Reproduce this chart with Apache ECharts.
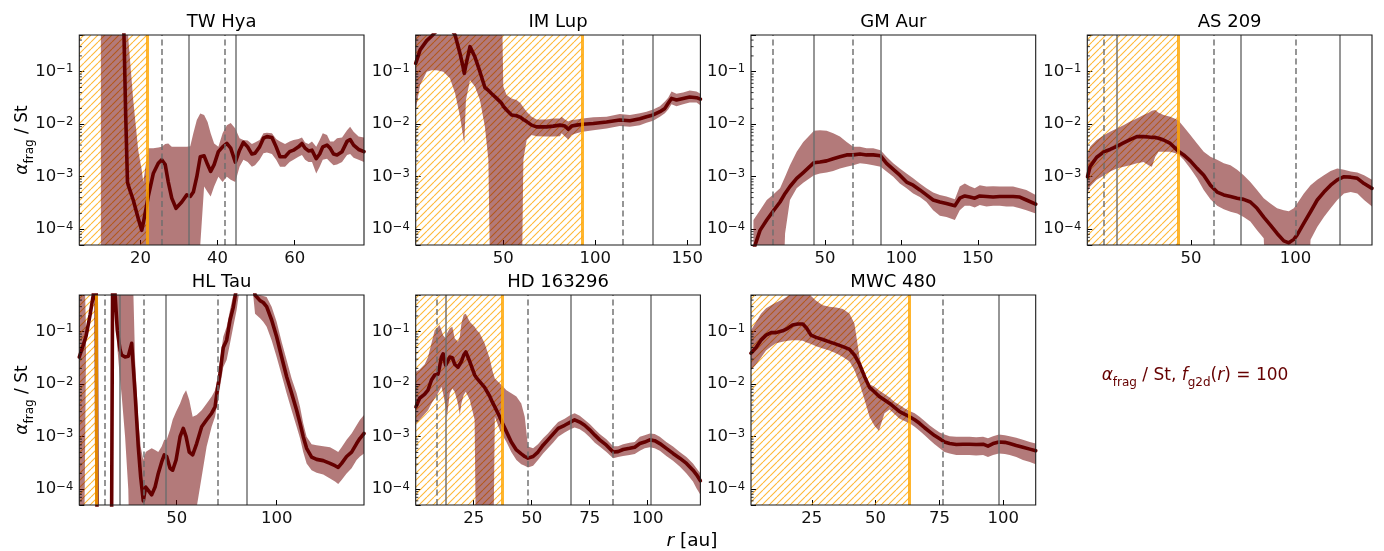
<!DOCTYPE html>
<html><head><meta charset="utf-8">
<script src="https://cdn.jsdelivr.net/npm/echarts@6/dist/echarts.min.js"></script>
<style>html,body{margin:0;padding:0;background:#fff}#c{width:1384px;height:551px}</style>
</head><body><div id="c"></div>
<script>
// ---------------- DATA ----------------
// y: alpha_frag / St ; x: r [au]. Values 1e-7 / 10 mean "beyond the plotted range".
const yTickValues = [1e-4, 1e-3, 1e-2, 1e-1];
const minorTickValues = [6e-5,7e-5,8e-5,9e-5, 2e-4,3e-4,4e-4,5e-4,6e-4,7e-4,8e-4,9e-4,
  2e-3,3e-3,4e-3,5e-3,6e-3,7e-3,8e-3,9e-3, 2e-2,3e-2,4e-2,5e-2,6e-2,7e-2,8e-2,9e-2, 2e-1,3e-1,4e-1];

// TW Hya
const twR = [9.7,14.9,15.4,15.7,16.1,16.6,16.8,18.1,19.4,20.3,20.7,22.0,23.3,24.6,25.5,26.4,27.2,28.1,29.2,30.7,32.0,32.9,33.7,34.6,35.5,36.5,37.4,38.2,39.1,40.2,41.3,42.4,43.4,44.6,45.7,46.7,47.8,48.9,49.7,50.9,51.9,52.8,54.1,55.2,56.2,57.5,58.7,59.7,61.0,61.9,62.7,63.6,64.5,65.6,66.5,67.3,68.4,69.2,70.1,71.0,72.3,73.6,74.4,75.3,76.6,78.0];
const twMid = [3,3,3,0.5,0.02,8e-4,6.9e-4,3.6e-4,1.6e-4,9.5e-5,1.3e-4,4.2e-4,1.15e-3,1.8e-3,2.1e-3,1.7e-3,7.9e-4,3.9e-4,2.5e-4,3.3e-4,4.5e-4,4.2e-4,5.1e-4,1.0e-3,2.4e-3,2.5e-3,1.7e-3,1.26e-3,1.7e-3,3.0e-3,3.7e-3,4.3e-3,3.5e-3,1.9e-3,3.2e-3,4.5e-3,3.7e-3,2.7e-3,2.8e-3,3.7e-3,5.4e-3,5.8e-3,5.6e-3,3.7e-3,2.4e-3,2.4e-3,3.0e-3,3.2e-3,3.7e-3,4.3e-3,3.5e-3,3.1e-3,3.2e-3,2.2e-3,2.7e-3,3.7e-3,4.0e-3,3.5e-3,2.7e-3,2.6e-3,3.0e-3,4.7e-3,5.1e-3,4.0e-3,3.3e-3,3.0e-3];
const twHi = [10,10,10,10,10,1,0.45,0.029,3.2e-3,1.35e-3,7.9e-4,3.5e-3,3.5e-3,3.6e-3,3.7e-3,4.2e-3,4.3e-3,3.7e-3,3.7e-3,3.7e-3,3.7e-3,3.8e-3,6.7e-3,0.012,0.016,0.015,0.011,6.7e-3,4.3e-3,3.7e-3,6.7e-3,9.5e-3,0.0105,8.3e-3,5.4e-3,5.0e-3,4.9e-3,4.2e-3,4.5e-3,5.0e-3,6.7e-3,6.9e-3,6.7e-3,5.2e-3,4.7e-3,4.2e-3,4.7e-3,5.0e-3,5.2e-3,5.6e-3,4.5e-3,4.2e-3,4.7e-3,3.7e-3,5.0e-3,6.7e-3,6.2e-3,4.7e-3,4.7e-3,5.4e-3,5.6e-3,7.7e-3,8.9e-3,7.2e-3,5.8e-3,5.6e-3];
const twLo = [1e-7,1e-7,1e-7,1e-7,1e-7,1e-7,1e-7,1e-7,1e-7,1e-7,1e-7,1e-7,1e-7,1e-7,1e-7,1e-7,1e-7,1e-7,1e-7,1e-7,1e-7,1e-7,1e-7,1e-7,5e-5,6.5e-4,5.1e-4,4.2e-4,6.5e-4,1.0e-3,7.9e-4,1.0e-3,8.7e-4,7.9e-4,1.55e-3,2.1e-3,1.9e-3,1.55e-3,1.65e-3,2.1e-3,2.8e-3,2.9e-3,2.7e-3,2.1e-3,1.55e-3,1.55e-3,1.9e-3,2.1e-3,2.4e-3,2.6e-3,2.1e-3,1.9e-3,1.9e-3,1.15e-3,1.55e-3,2.1e-3,2.2e-3,1.9e-3,1.65e-3,1.7e-3,1.9e-3,2.6e-3,2.7e-3,2.3e-3,2.1e-3,1.9e-3];
const twTicks = [20, 40, 60];
const twGaps = [25.5, 41.8];
const twRings = [32.5, 44.8];

// IM Lup
const imR = [2.4,4.8,8.4,11.1,13.8,17.4,21.0,23.8,26.5,27.9,28.8,29.7,31.9,34.6,37.3,40.0,41.9,43.7,46.4,49.1,50.0,51.8,54.5,57.2,59.4,60.9,62.7,65.4,68.1,73.5,77.1,80.8,81.7,83.5,85.3,87.1,89.8,93.1,98.9,106.1,113.3,118.8,124.2,127.8,131.4,135.1,137.8,139.6,141.4,144.1,147.7,151.3,155.0,157.1];
const imMid = [0.144,0.26,0.39,0.48,0.6,0.8,0.7,0.5,0.22,0.134,0.093,0.134,0.30,0.19,0.10,0.050,0.044,0.038,0.031,0.025,0.022,0.0186,0.015,0.0145,0.0135,0.0123,0.0112,0.0096,0.0089,0.0089,0.0092,0.0096,0.0103,0.0092,0.0080,0.0092,0.0096,0.0100,0.0103,0.011,0.012,0.0116,0.0127,0.0139,0.015,0.0173,0.020,0.025,0.031,0.029,0.031,0.033,0.032,0.030];
const imHi = [5,5,5,5,5,5,5,5,5,5,5,5,5,5,5,5,5,5,5,5,0.052,0.036,0.031,0.029,0.025,0.021,0.0173,0.0139,0.0123,0.0123,0.0129,0.0129,0.0139,0.0123,0.0112,0.012,0.0123,0.0129,0.0135,0.0139,0.0156,0.015,0.0161,0.0173,0.019,0.022,0.027,0.032,0.042,0.038,0.040,0.044,0.042,0.038];
const imLo = [0.0186,0.056,0.10,0.107,0.107,0.10,0.075,0.039,0.0139,0.0067,0.0043,0.029,0.069,0.052,0.029,0.0089,0.0021,1e-7,1e-7,1e-7,1e-7,1e-7,1e-7,1e-7,1e-7,0.0021,0.0050,0.0062,0.0059,0.0058,0.0058,0.0059,0.0067,0.0058,0.0051,0.0062,0.0067,0.0072,0.0077,0.0083,0.0092,0.0089,0.0096,0.0107,0.0116,0.0139,0.0161,0.019,0.024,0.022,0.024,0.026,0.026,0.023];
const imTicks = [50, 100, 150];
const imGaps = [114.8];
const imRings = [131.4];

// GM Aur
const gmR = [3.2,7.5,11.9,15.8,20.6,23.9,27.1,31.5,35.8,42.8,46.7,51.1,55.4,59.8,64.2,68.5,72.9,77.2,81.6,86.4,90.3,94.7,99.0,103.4,107.7,112.1,116.4,120.8,125.2,129.5,135.0,138.2,141.5,144.8,148.0,151.3,155.7,160.0,164.4,168.7,173.1,177.5,181.8,187.9];
const gmMid = [4e-5,9.5e-5,1.5e-4,2.15e-4,3.3e-4,4.8e-4,6.5e-4,9.3e-4,1.2e-3,1.85e-3,1.9e-3,2.0e-3,2.2e-3,2.4e-3,2.6e-3,2.6e-3,2.7e-3,2.6e-3,2.6e-3,2.5e-3,1.8e-3,1.38e-3,1.07e-3,7.9e-4,6.9e-4,5.6e-4,4.5e-4,3.6e-4,3.3e-4,3.1e-4,2.8e-4,3.9e-4,4.3e-4,4.1e-4,3.9e-4,4.3e-4,4.2e-4,4.1e-4,4.2e-4,4.2e-4,4.2e-4,4.1e-4,3.6e-4,3.0e-4];
const gmHi = [1.5e-4,2.3e-4,3.6e-4,4.5e-4,6.0e-4,1.0e-3,1.65e-3,3.0e-3,4.6e-3,7.5e-3,7.7e-3,7.5e-3,6.7e-3,5.8e-3,4.6e-3,3.7e-3,3.7e-3,3.5e-3,3.5e-3,3.2e-3,2.4e-3,1.8e-3,1.44e-3,1.15e-3,9.3e-4,7.4e-4,6.0e-4,5.0e-4,4.5e-4,4.2e-4,3.7e-4,6.5e-4,7.4e-4,6.6e-4,6.0e-4,6.9e-4,6.5e-4,6.6e-4,6.5e-4,6.5e-4,6.5e-4,6.0e-4,5.6e-4,4.5e-4];
const gmLo = [1e-7,1e-7,1e-7,1e-7,1e-7,8.3e-5,3.6e-4,6.0e-4,7.7e-4,1.07e-3,1.15e-3,1.2e-3,1.29e-3,1.44e-3,1.55e-3,1.65e-3,1.8e-3,1.75e-3,1.65e-3,1.55e-3,1.25e-3,1.0e-3,7.4e-4,6.0e-4,4.8e-4,4.1e-4,3.3e-4,2.3e-4,1.8e-4,1.7e-4,1.5e-4,2.3e-4,2.8e-4,2.8e-4,2.6e-4,2.9e-4,2.7e-4,2.8e-4,2.8e-4,2.7e-4,2.7e-4,2.5e-4,2.3e-4,2.0e-4];
const gmTicks = [50, 100, 150];
const gmGaps = [15.8, 68.5];
const gmRings = [42.8, 86.4];

// AS 209
const asR = [0.5,1.7,4.9,8.5,11.3,14.5,17.7,20.9,24.1,27.3,29.7,31.3,32.9,34.5,36.9,40.1,43.8,46.5,49.7,52.9,56.1,59.3,62.5,65.7,68.9,72.1,75.2,78.4,81.6,84.8,88.0,91.2,94.4,96.8,99.2,100.8,104.0,107.2,110.4,113.6,116.8,120.0,123.2,126.4,129.6,132.8,136.6];
const asMid = [1.0e-3,1.55e-3,2.35e-3,3.0e-3,3.3e-3,3.8e-3,4.4e-3,5.1e-3,5.8e-3,5.8e-3,5.7e-3,5.6e-3,5.6e-3,5.4e-3,5.0e-3,4.3e-3,3.1e-3,2.6e-3,2.0e-3,1.44e-3,1.07e-3,6.9e-4,5.1e-4,4.5e-4,4.2e-4,3.9e-4,3.7e-4,3.3e-4,2.5e-4,1.7e-4,1.2e-4,8.3e-5,6.0e-5,5.5e-5,6.4e-5,7.8e-5,1.3e-4,2.15e-4,3.6e-4,5.1e-4,6.9e-4,8.7e-4,1.0e-3,9.8e-4,9.3e-4,7.4e-4,6.0e-4];
const asHi = [2.6e-3,3.7e-3,5.0e-3,6.2e-3,7.2e-3,8.3e-3,9.6e-3,0.0112,0.0129,0.015,0.0165,0.018,0.0186,0.0165,0.015,0.0139,0.012,8.9e-3,6.2e-3,4.3e-3,3.0e-3,2.4e-3,2.1e-3,1.8e-3,1.65e-3,1.35e-3,1.07e-3,7.9e-4,5.6e-4,3.9e-4,3.1e-4,2.5e-4,2.3e-4,2.2e-4,2.5e-4,3.1e-4,4.8e-4,6.9e-4,8.7e-4,1.07e-3,1.29e-3,1.44e-3,1.35e-3,1.25e-3,1.2e-3,1.07e-3,8.7e-4];
const asLo = [4.8e-4,6.5e-4,8.7e-4,1.07e-3,1.25e-3,1.44e-3,1.55e-3,1.65e-3,1.8e-3,1.9e-3,1.65e-3,1.55e-3,2.4e-3,3.0e-3,3.0e-3,3.0e-3,2.7e-3,2.1e-3,1.44e-3,9.3e-4,5.6e-4,3.7e-4,2.8e-4,2.4e-4,2.15e-4,2.0e-4,1.7e-4,1.4e-4,9.5e-5,6.7e-5,1e-7,1e-7,1e-7,1e-7,1e-7,1e-7,1e-7,6.3e-5,1.1e-4,1.7e-4,2.5e-4,3.6e-4,4.8e-4,5.1e-4,4.8e-4,3.6e-4,2.7e-4];
const asTicks = [50, 100];
const asGaps = [8.5, 60.7, 100.3];
const asRings = [14.5, 74.0, 121.4];

// HL Tau
const hlR = [1.3,3.3,4.7,6.7,8.3,9.0,9.7,10.3,11.7,15.0,17.3,18.0,18.7,19.2,20.3,21.7,22.5,24.2,25.8,27.5,29.2,30.8,32.0,33.3,34.5,35.8,37.5,39.2,40.8,42.5,43.8,45.0,46.7,48.0,49.7,51.7,53.3,54.7,56.3,58.0,60.0,62.5,65.0,67.5,69.2,70.3,71.7,73.3,75.0,76.7,78.3,80.0,83.3,86.7,89.2,91.7,93.3,95.0,97.5,100.0,102.5,105.0,107.5,110.0,111.7,113.3,115.0,117.5,120.0,123.3,126.7,129.2,130.8,132.5,135.0,137.5,140.0,141.7,143.7];
const hlMid = [0.033,0.056,0.083,0.21,0.5,1.5,2,1e-6,1e-6,1e-6,1e-6,2,2,0.5,0.107,0.045,0.036,0.033,0.034,0.060,6.7e-3,6.5e-4,1.7e-4,6.0e-5,1.1e-4,9.5e-5,7.8e-5,1.1e-4,2.0e-4,3.3e-4,4.5e-4,4.2e-4,2.5e-4,2.3e-4,3.6e-4,1.0e-3,1.44e-3,1.0e-3,5.1e-4,4.5e-4,7.4e-4,1.55e-3,2.1e-3,2.8e-3,3.7e-3,7.7e-3,0.016,0.050,0.069,0.167,0.29,0.7,2,2,0.5,0.39,0.36,0.30,0.167,0.080,0.033,0.0139,6.7e-3,3.2e-3,1.8e-3,1.0e-3,6.0e-4,4.1e-4,3.7e-4,3.5e-4,3.1e-4,2.8e-4,2.6e-4,3.1e-4,4.2e-4,5.1e-4,7.4e-4,9.3e-4,1.15e-3];
const hlHi = [10,10,0.1,0.26,0.6,10,10,1e-6,1e-6,1e-6,1e-6,10,10,10,10,10,10,10,10,10,0.029,2.1e-3,6.5e-4,3.6e-4,5.1e-4,5.5e-4,6.0e-4,5.6e-4,5.1e-4,6.5e-4,8.7e-4,8.7e-4,1.35e-3,2.1e-3,3.0e-3,4.3e-3,6.2e-3,7.7e-3,5.0e-3,2.4e-3,2.6e-3,3.2e-3,4.3e-3,5.8e-3,7.7e-3,0.012,0.029,0.080,0.124,0.26,0.5,10,10,10,10,0.5,0.48,0.46,0.30,0.155,0.064,0.029,0.0129,6.7e-3,3.7e-3,1.8e-3,1.0e-3,7.2e-4,6.9e-4,6.6e-4,6.3e-4,5.6e-4,5.1e-4,6.3e-4,8.7e-4,1.15e-3,1.65e-3,2.1e-3,2.6e-3];
const hlLo = [1e-7,1e-7,0.07,0.17,0.4,1,1,1e-7,1e-7,1e-7,1e-7,1,1,0.3,0.05,0.012,6e-3,1e-3,1e-4,1e-7,1e-7,1e-7,1e-7,1e-7,1e-7,1e-7,1e-7,1e-7,1e-7,1e-7,1e-7,1e-7,1e-7,1e-7,1e-7,1e-7,1e-7,1e-7,1e-7,1e-7,4.5e-5,1.7e-4,6.5e-4,1.55e-3,2.4e-3,4.3e-3,8.9e-3,0.021,0.029,0.060,0.124,0.26,2,2,0.22,0.18,0.155,0.124,0.069,0.033,0.015,6.7e-3,3.2e-3,1.55e-3,9.3e-4,5.1e-4,3.1e-4,2.3e-4,2.05e-4,1.9e-4,1.6e-4,1.4e-4,1.26e-4,1.5e-4,2.0e-4,2.5e-4,3.6e-4,4.2e-4,4.8e-4];
const hlTicks = [50, 100];
const hlGaps = [13.8, 33.7, 70.3];
const hlRings = [21.7, 44.5, 85.2];

// HD 163296
const hdR = [0.1,1.7,3.9,5.3,6.8,8.2,9.6,10.3,11.1,11.8,12.9,13.5,14.7,15.8,16.8,18.2,19.0,19.7,20.7,21.6,23.3,25.4,26.4,27.6,29.7,31.9,33.0,34.1,36.2,37.4,39.1,41.2,43.4,45.5,47.0,48.4,50.6,52.7,54.9,57.0,59.2,61.4,64.2,66.7,68.5,70.7,72.8,75.0,77.2,79.3,82.2,85.1,87.2,89.4,92.2,94.4,96.6,98.7,100.9,103.0,105.2,108.0,110.9,113.8,116.7,119.5,121.0,122.7];
const hdMid = [3.7e-3,5.4e-3,6.5e-3,7.7e-3,0.012,0.015,0.0155,0.0215,0.033,0.038,0.023,0.025,0.033,0.032,0.024,0.021,0.022,0.027,0.036,0.041,0.027,0.015,0.0129,0.0112,8.7e-3,5.9e-3,4.6e-3,3.7e-3,2.4e-3,1.8e-3,1.25e-3,7.9e-4,5.6e-4,4.7e-4,4.2e-4,3.9e-4,4.2e-4,5.1e-4,6.9e-4,8.7e-4,1.12e-3,1.44e-3,1.65e-3,1.9e-3,2.1e-3,1.9e-3,1.65e-3,1.35e-3,1.07e-3,8.7e-4,6.9e-4,5.1e-4,5.2e-4,5.7e-4,6.0e-4,6.3e-4,7.4e-4,7.9e-4,8.7e-4,8.4e-4,7.4e-4,6.0e-4,4.8e-4,3.9e-4,3.1e-4,2.3e-4,1.9e-4,1.45e-4];
const hdHi = [0.0173,0.019,0.024,0.033,0.060,0.107,0.124,0.134,0.107,0.086,0.075,0.093,0.116,0.124,0.075,0.064,0.080,0.144,0.21,0.22,0.155,0.124,0.107,0.093,0.060,0.031,0.0186,0.0129,0.0104,0.0092,7.7e-3,6.7e-3,5.8e-3,4.3e-3,2.4e-3,6.5e-4,6.0e-4,7.2e-4,9.3e-4,1.15e-3,1.5e-3,1.9e-3,2.2e-3,2.6e-3,2.8e-3,2.5e-3,2.1e-3,1.75e-3,1.38e-3,1.12e-3,8.9e-4,6.6e-4,6.6e-4,7.2e-4,7.7e-4,7.9e-4,1.0e-3,1.07e-3,1.15e-3,1.12e-3,1.0e-3,7.9e-4,6.5e-4,5.1e-4,4.1e-4,3.1e-4,2.5e-4,2.0e-4];
const hdLo = [1.8e-3,2.1e-3,2.7e-3,3.2e-3,4.3e-3,5.4e-3,6.7e-3,7.7e-3,8.9e-3,6.7e-3,3.7e-3,2.4e-3,6.7e-3,8.3e-3,7.2e-3,4.3e-3,2.6e-3,4.3e-3,6.2e-3,7.2e-3,5.0e-3,2.1e-3,1e-7,1e-7,1e-7,1e-7,1e-7,2.4e-3,1.35e-3,1.07e-3,7.9e-4,5.1e-4,3.6e-4,3.0e-4,2.8e-4,2.6e-4,2.8e-4,3.6e-4,4.8e-4,6.0e-4,7.7e-4,1.0e-3,1.2e-3,1.38e-3,1.5e-3,1.38e-3,1.2e-3,9.8e-4,7.7e-4,6.5e-4,5.1e-4,3.9e-4,4.1e-4,4.3e-4,4.5e-4,4.7e-4,5.4e-4,6.0e-4,6.3e-4,6.0e-4,5.4e-4,4.3e-4,3.5e-4,2.7e-4,2.0e-4,1.4e-4,1.04e-4,7.8e-5];
const hdTicks = [25, 50, 75, 100];
const hdGaps = [9.1, 48.4, 85.1];
const hdRings = [13.1, 66.7, 101.3];

// MWC 480
const mwR = [1.2,3.2,5.1,7.1,9.1,11.0,13.6,15.6,17.5,19.5,21.5,23.0,24.7,26.7,29.3,31.9,34.5,37.2,39.8,41.7,43.7,45.7,47.6,49.6,51.3,53.5,55.5,57.4,59.4,61.3,63.3,65.3,67.2,69.2,71.1,73.1,75.1,77.0,79.0,81.6,84.2,86.8,89.4,92.1,94.0,96.0,98.3,100.6,102.5,105.1,107.7,110.4,112.7];
const mwMid = [0.039,0.050,0.069,0.086,0.096,0.096,0.104,0.116,0.134,0.14,0.14,0.116,0.086,0.078,0.071,0.064,0.058,0.052,0.046,0.036,0.024,0.0139,8.7e-3,7.1e-3,5.9e-3,5.0e-3,4.3e-3,3.6e-3,3.0e-3,2.7e-3,2.4e-3,2.1e-3,1.8e-3,1.48e-3,1.25e-3,1.05e-3,9.1e-4,7.9e-4,7.4e-4,7.1e-4,7.2e-4,7.2e-4,7.1e-4,7.2e-4,6.6e-4,7.4e-4,7.9e-4,7.8e-4,7.4e-4,6.8e-4,6.3e-4,5.8e-4,5.4e-4];
const mwHi = [0.107,0.155,0.22,0.28,0.32,0.36,0.41,0.48,0.55,0.6,0.6,0.55,0.48,0.39,0.32,0.30,0.29,0.27,0.22,0.144,0.033,0.0129,0.010,8.9e-3,7.7e-3,6.5e-3,5.6e-3,4.6e-3,4.0e-3,3.5e-3,3.1e-3,2.8e-3,2.4e-3,2.0e-3,1.65e-3,1.4e-3,1.2e-3,1.1e-3,1.02e-3,1.0e-3,1.0e-3,1.0e-3,9.8e-4,1.0e-3,9.3e-4,1.02e-3,1.1e-3,1.07e-3,1.02e-3,9.5e-4,8.7e-4,7.9e-4,7.4e-4];
const mwLo = [0.0186,0.024,0.032,0.044,0.052,0.060,0.064,0.067,0.069,0.069,0.067,0.062,0.058,0.053,0.048,0.044,0.039,0.033,0.027,0.0186,0.0104,5.0e-3,2.4e-3,1.6e-3,1.3e-3,2.8e-3,3.3e-3,2.7e-3,2.2e-3,2.0e-3,1.8e-3,1.55e-3,1.3e-3,1.07e-3,8.7e-4,7.2e-4,6.0e-4,5.1e-4,4.8e-4,4.5e-4,4.5e-4,4.5e-4,4.4e-4,4.5e-4,4.1e-4,4.5e-4,4.8e-4,4.7e-4,4.5e-4,4.1e-4,3.6e-4,3.3e-4,3.0e-4];
const mwTicks = [25, 50, 75, 100];
const mwGaps = [76.4];
const mwRings = [98.3];

// ---------------- PANEL DEFINITIONS ----------------
const panels = [
  {name:'TW Hya',   r:twR, mid:twMid, lo:twLo, hi:twHi, xmin:4.1, xmax:78.0,  ticks:twTicks, gaps:twGaps, rings:twRings, hatch:21.7},
  {name:'IM Lup',   r:imR, mid:imMid, lo:imLo, hi:imHi, xmin:2.4, xmax:157.1, ticks:imTicks, gaps:imGaps, rings:imRings, hatch:93.1},
  {name:'GM Aur',   r:gmR, mid:gmMid, lo:gmLo, hi:gmHi, xmin:1.6, xmax:187.9, ticks:gmTicks, gaps:gmGaps, rings:gmRings, hatch:null},
  {name:'AS 209',   r:asR, mid:asMid, lo:asLo, hi:asHi, xmin:0.4, xmax:136.6, ticks:asTicks, gaps:asGaps, rings:asRings, hatch:43.8},
  {name:'HL Tau',   r:hlR, mid:hlMid, lo:hlLo, hi:hlHi, xmin:1.3, xmax:143.7, ticks:hlTicks, gaps:hlGaps, rings:hlRings, hatch:10.0},
  {name:'HD 163296',r:hdR, mid:hdMid, lo:hdLo, hi:hdHi, xmin:0.0, xmax:122.7, ticks:hdTicks, gaps:hdGaps, rings:hdRings, hatch:37.4},
  {name:'MWC 480',  r:mwR, mid:mwMid, lo:mwLo, hi:mwHi, xmin:1.2, xmax:112.7, ticks:mwTicks, gaps:mwGaps, rings:mwRings, hatch:63.3}
];

// ---------------- LAYOUT & STYLE ----------------
const FONT = 'DejaVu Sans';
const YMIN = 5e-5, YMAX = 0.5;
const colLeft = [79.3, 415.7, 751, 1087.3];
const rowTop = [35, 295];
const PW = 284.7, PH = 210;
const LINE = '#650000';
const BAND = 'rgba(110,0,0,0.52)';
const GRAY = 'rgba(110,110,110,0.9)';
const ORANGE = 'rgba(255,165,0,0.82)';

function makeHatch() {
  const s = 7;
  const c = document.createElement('canvas');
  c.width = s; c.height = s;
  const g = c.getContext('2d');
  g.strokeStyle = 'rgba(255,170,20,0.85)';
  g.lineWidth = 1.1;
  g.beginPath();
  for (const k of [-s, 0, s]) { g.moveTo(k, s); g.lineTo(k + s, 0); }
  g.stroke();
  return c;
}
const hatchCanvas = makeHatch();

function powLabel(v) {
  const e = Math.log10(v);
  const n = Math.round(e);
  if (Math.abs(e - n) > 1e-6) return '';
  if (!yTickValues.some(t => Math.abs(Math.log10(t) - n) < 1e-6)) return '';
  return '{b|10}{e|' + (n < 0 ? '\u2212' : '') + Math.abs(n) + '}';
}

const grid = [], xAxis = [], yAxis = [], series = [], graphic = [];
panels.forEach((p, i) => {
  const row = i < 4 ? 0 : 1, col = i < 4 ? i : i - 4;
  const L = colLeft[col], T = rowTop[row];
  grid.push({left: L, top: T, width: PW, height: PH, containLabel: false});
  xAxis.push({
    type: 'value', gridIndex: i, min: p.xmin, max: p.xmax,
    axisLine: {show: false}, splitLine: {show: false},
    axisTick: {inside: true, length: 5, customValues: p.ticks, lineStyle: {color: '#000', width: 1}},
    axisLabel: {customValues: p.ticks, margin: 5, color: '#111', fontSize: 16.5, fontFamily: FONT}
  });
  yAxis.push({
    type: 'log', logBase: 10, gridIndex: i, min: YMIN, max: YMAX,
    axisLine: {show: false}, splitLine: {show: false},
    axisTick: {inside: true, length: 5, lineStyle: {color: '#000', width: 1}},
    axisLabel: {
      formatter: powLabel, margin: 6, color: '#111',
      rich: {
        b: {fontSize: 16.5, fontFamily: FONT, color: '#111', lineHeight: 17, verticalAlign: 'bottom'},
        e: {fontSize: 11.5, fontFamily: FONT, color: '#111', lineHeight: 12, padding: [0, 0, 8, 0], verticalAlign: 'top'}
      }
    }
  });
  const base = {xAxisIndex: i, yAxisIndex: i, animation: false, silent: true};
  // uncertainty band: one polygon (lower bound forward, upper bound backward), positioned through the axes
  series.push(Object.assign({}, base, {
    type: 'custom', z: 2, clip: true,
    data: p.r.map((r, k) => [r, p.lo[k], p.hi[k]]),
    encode: {x: 0, y: [1, 2]},
    renderItem: (params, api) => {
      if (params.dataIndex !== 0) return null;
      const pts = [];
      for (let k = 0; k < p.r.length; k++) pts.push(api.coord([p.r[k], p.lo[k]]));
      for (let k = p.r.length - 1; k >= 0; k--) pts.push(api.coord([p.r[k], p.hi[k]]));
      const cs = params.coordSys;
      return {type: 'polygon', shape: {points: pts}, style: {fill: BAND, stroke: null},
              clipPath: {type: 'rect', shape: {x: cs.x, y: cs.y, width: cs.width, height: cs.height}}};
    }
  }));
  // hatched region
  if (p.hatch != null) {
    series.push(Object.assign({}, base, {
      type: 'line', symbol: 'none', z: 3, data: [],
      markArea: {silent: true, animation: false,
        itemStyle: {color: {image: hatchCanvas, repeat: 'repeat'}, opacity: 1, borderWidth: 0},
        data: [[{xAxis: p.xmin}, {xAxis: p.hatch}]]}
    }));
  }
  // main curve
  series.push(Object.assign({}, base, {
    type: 'line', symbol: 'none', z: 4,
    data: p.r.map((r, k) => [r, p.mid[k]]),
    lineStyle: {color: LINE, width: 3.6, join: 'round', cap: 'round'}
  }));
  // vertical lines: gaps (dashed), rings (solid), hatch boundary (orange)
  const ml = [];
  p.gaps.forEach(x => ml.push({xAxis: x, lineStyle: {color: GRAY, width: 1.6, type: [6, 3.5]}}));
  p.rings.forEach(x => ml.push({xAxis: x, lineStyle: {color: GRAY, width: 1.6, type: 'solid'}}));
  if (p.hatch != null) ml.push({xAxis: p.hatch, lineStyle: {color: ORANGE, width: 3, type: 'solid'}});
  series.push(Object.assign({}, base, {
    type: 'line', symbol: 'none', z: 5, data: [],
    markLine: {silent: true, animation: false, symbol: ['none', 'none'], label: {show: false}, data: ml}
  }));
  // minor log ticks on the left axis
  series.push(Object.assign({}, base, {
    type: 'custom', z: 6,
    data: minorTickValues.map(v => [p.xmin, v]),
    renderItem: (params, api) => {
      const pt = api.coord([api.value(0), api.value(1)]);
      return {type: 'line', shape: {x1: pt[0], y1: pt[1], x2: pt[0] + 2.6, y2: pt[1]},
              style: {stroke: '#000', lineWidth: 0.8}};
    }
  }));
  // frame and title
  graphic.push({type: 'rect', z: 100, silent: true,
    shape: {x: L, y: T, width: PW, height: PH},
    style: {fill: 'none', stroke: '#1a1a1a', lineWidth: 1.1}});
  graphic.push({type: 'text', z: 100, silent: true, x: L + PW / 2, y: T - 13,
    style: {text: p.name, fontSize: 18, fontFamily: FONT, fill: '#000', align: 'center', verticalAlign: 'middle'}});
  if (col === 0) {
    graphic.push({type: 'text', z: 100, silent: true, x: 23, y: T + PH / 2, rotation: Math.PI / 2,
      style: {text: '{a|\u03b1}{s|frag}{t| / St}', align: 'center', verticalAlign: 'middle', fill: '#000',
        rich: {
          a: {fontSize: 17, fontFamily: FONT, fontStyle: 'italic', lineHeight: 26, verticalAlign: 'middle'},
          s: {fontSize: 12, fontFamily: FONT, lineHeight: 14, verticalAlign: 'bottom'},
          t: {fontSize: 17, fontFamily: FONT, lineHeight: 26, verticalAlign: 'middle'}
        }}});
  }
});

// x-axis label and annotation text
graphic.push({type: 'text', z: 100, silent: true, x: 692, y: 541,
  style: {text: '{i|r}{t| [au]}', align: 'center', verticalAlign: 'middle', fill: '#000',
    rich: {i: {fontSize: 18.5, fontFamily: FONT, fontStyle: 'italic'}, t: {fontSize: 18.5, fontFamily: FONT}}}});
graphic.push({type: 'text', z: 100, silent: true, x: 1195, y: 376,
  style: {text: '{a|\u03b1}{s|frag}{t| / St, }{i|f}{s|g2d}{t|(}{i|r}{t|) = 100}', align: 'center', verticalAlign: 'middle', fill: LINE,
    rich: {
      a: {fontSize: 17, fontFamily: FONT, fontStyle: 'italic', color: LINE, lineHeight: 26, verticalAlign: 'middle'},
      i: {fontSize: 17, fontFamily: FONT, fontStyle: 'italic', color: LINE, lineHeight: 26, verticalAlign: 'middle'},
      s: {fontSize: 12, fontFamily: FONT, color: LINE, lineHeight: 14, verticalAlign: 'bottom'},
      t: {fontSize: 17, fontFamily: FONT, color: LINE, lineHeight: 26, verticalAlign: 'middle'}
    }}});

const chart = echarts.init(document.getElementById('c'), null, {renderer: 'canvas'});
chart.setOption({
  animation: false,
  backgroundColor: '#fff',
  grid, xAxis, yAxis, series, graphic
});
</script>
</body></html>
